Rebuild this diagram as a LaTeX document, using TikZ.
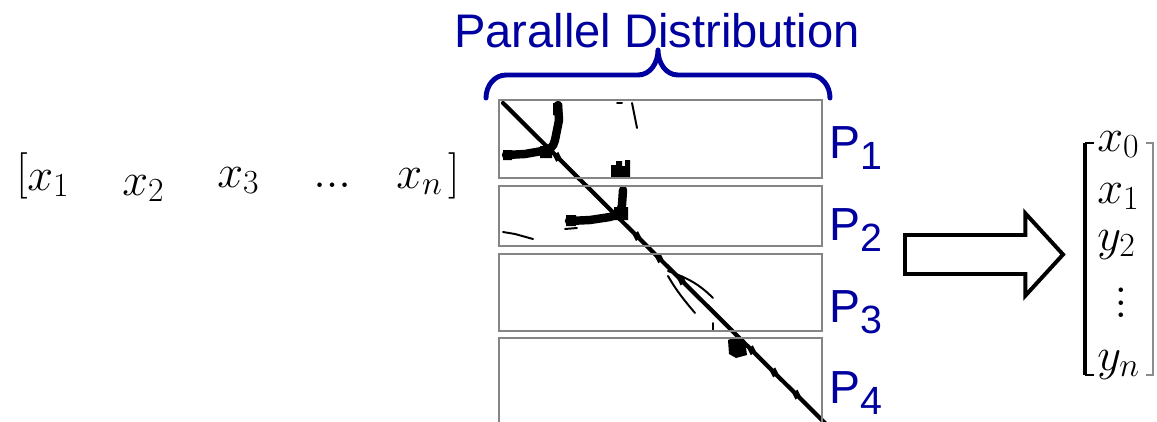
\RequirePackage{fix-cm}
\documentclass[tikz,border=0pt]{standalone}
\usepackage{fontspec}
\setmainfont{Liberation Sans}
\usetikzlibrary{shapes.arrows, calc}
\definecolor{pdblue}{RGB}{0,0,160}
\DeclareMathSizes{33}{33}{24}{18}
\newcommand{\psub}[1]{\raisebox{-8.5pt}{\fontsize{28}{28}\selectfont #1}}
\newcommand{\vdotsbig}{\vbox{\baselineskip=8.9pt \lineskiplimit=0pt \hbox{$.$}\hbox{$.$}\hbox{$.$}}}
\begin{document}
\begin{tikzpicture}[x=0.025cm, y=-0.025cm,
        strip/.style={rectangle, draw=black!48, line width=1.5pt, minimum width=8.075cm, inner sep=0pt},
        plab/.style={anchor=base west, inner sep=0pt, text=pdblue, font=\fontsize{33}{36}\selectfont},
        ent/.style={anchor=base west, inner sep=0pt, font=\fontsize{33}{36}\selectfont},
        ink/.style={line width=6pt, line cap=round, line join=round},
        hair/.style={line width=1.4pt, line cap=round},
        hollow/.style={single arrow, draw, fill=white, line width=2.8pt, minimum height=3.95cm,
                  minimum width=1.95cm, single arrow head extend=0.54cm, inner ysep=0.4375cm,
                  inner xsep=0pt, outer sep=0pt, single arrow tip angle=95}
    ]
    \useasboundingbox (0,0) rectangle (1157,421);

    \node[ent, anchor=center] (lb) at (22,176) {$\bigl[$};
    \node[ent] (x1) at (27,190) {$x_1$};
    \node[ent] (x2) at (122,195) {$x_2$};
    \node[ent] (x3) at (217,187) {$x_3$};
    \node[ent] (dt) at (313,187) {$...$};
    \node[ent] (xn) at (396,188) {$x_n$};
    \node[ent, anchor=center] (rb) at (454,176) {$\bigr]$};

    \node[anchor=base, inner sep=0pt, text=pdblue, font=\fontsize{33.5}{36}\selectfont] (title) at (657,47) {Parallel Distribution};
    \draw[pdblue, line width=3.5pt, line cap=round, line join=round]
        (486,98) to[out=90, in=180] (506,75) -- (638,75) to[out=0, in=-90] (658,50)
        to[out=-90, in=180] (678,75) -- (810,75) to[out=0, in=90] (830,98);

    \draw[ink, line width=3pt] (503,103) -- (826,424);
    \foreach \t in {0.17, 0.42, 0.49, 0.56, 0.78, 0.85, 0.92}
        \fill ($(503,103)!\t!(822,420)$) +(-4,-1) -- +(1,-5) -- +(4,1) -- +(-1,5) -- cycle;
    \draw[ink] (506,155) -- (525,154) -- (542,151) to[out=-10, in=-100] (555,140) -- (559,120) -- (558,105);
    \fill (503,150) rectangle (512,160) (540,146) rectangle (552,158) (553,103) rectangle (562,115);
    \draw[hair] (632,103) -- (637,128);
    \draw[hair] (617,103) -- (622,103);
    \fill (611,165) -- (616,165) -- (616,161) -- (622,161) -- (622,166) -- (625,166) -- (625,160) -- (630,160) -- (630,178) -- (611,178) -- cycle;
    \draw[ink] (623,190) -- (622,205) to[out=-95, in=10] (610,217) -- (590,220) -- (569,221);
    \fill (566,215) rectangle (576,226) (614,207) rectangle (628,220);
    \draw[hair] (565,229) -- (577,228);
    \draw[hair] (503,232) -- (515,234) -- (533,239);
    \draw[hair] (668,271) to[out=-20, in=135] (713,298);
    \draw[hair] (668,276) to[out=-60, in=130] (695,313);
    \draw[hair] (713,323) -- (713,330);
    \fill (728,340) -- (736,337) -- (745,340) -- (747,355) -- (736,358) -- (729,354) -- cycle;

    \node[strip, minimum height=1.95cm]  (s1) at (660.5,139)   {};
    \node[strip, minimum height=1.5cm]   (s2) at (660.5,216)   {};
    \node[strip, minimum height=1.925cm] (s3) at (660.5,292.5) {};
    \node[strip, minimum height=2.55cm]  (s4) at (660.5,389)   {};

    \node[plab] (p1) at (829,158) {P\psub{1}};
    \node[plab] (p2) at (829,240) {P\psub{2}};
    \node[plab] (p3) at (829,322) {P\psub{3}};
    \node[plab] (p4) at (829,403) {P\psub{4}};

    \node[hollow, anchor=tail] (arr) at (905,254.5) {};

    \draw[line width=2.8pt] (1085,143) -- (1085,375);
    \draw[line width=1.4pt] (1094,143) -- (1085,143) (1085,375) -- (1094,375);
    \draw[black!45, line width=1pt] (1146,143) -- (1153,143) -- (1153,375) -- (1146,375);
    \node[ent] (v0) at (1097,151) {$x_0$};
    \node[ent] (v1) at (1097,203) {$x_1$};
    \node[ent] (v2) at (1097,250) {$y_2$};
    \node[anchor=center, inner sep=0pt, font=\fontsize{33}{36}\selectfont] (vd) at (1121,303) {\vdotsbig};
    \node[ent] (vn) at (1097,370) {$y_n$};
\end{tikzpicture}
\end{document}
